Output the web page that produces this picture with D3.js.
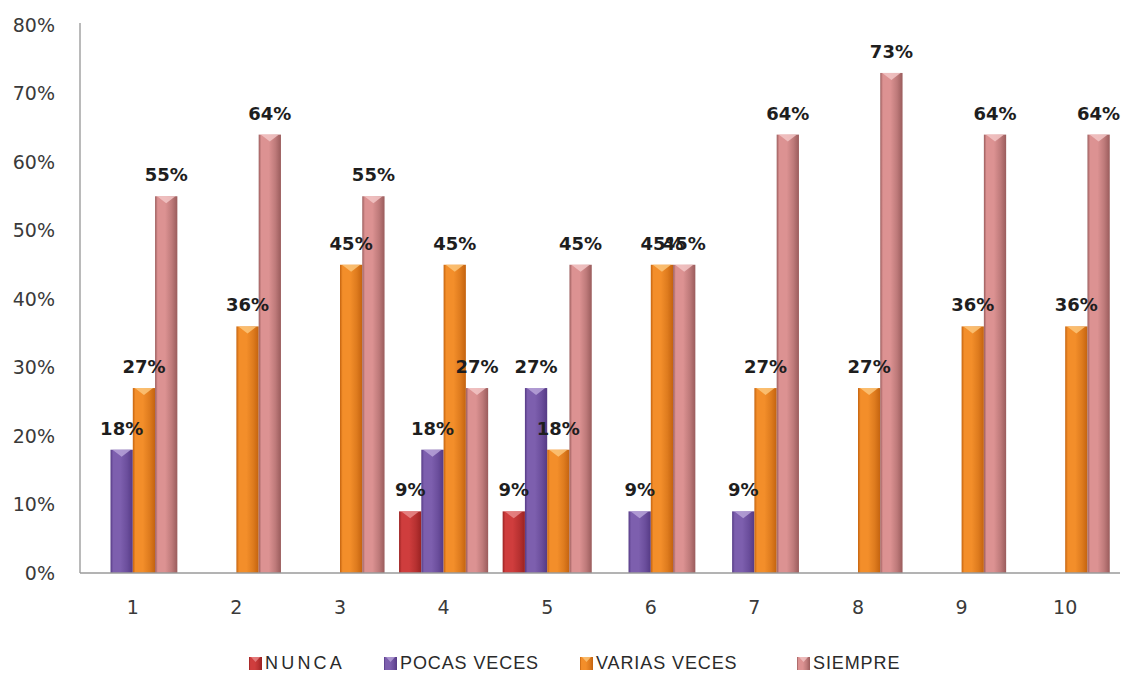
<!DOCTYPE html>
<html>
<head>
<meta charset="utf-8">
<script src="https://cdn.jsdelivr.net/npm/d3@7/dist/d3.min.js"></script>
<style>
  html, body { margin: 0; padding: 0; background: #ffffff; }
  svg { display: block; }
</style>
</head>
<body>
<svg id="chart" width="1123" height="673"></svg>
<script>
// Survey answers per question (percent of respondents)
const categories = ["1", "2", "3", "4", "5", "6", "7", "8", "9", "10"];
const seriesNames = ["NUNCA", "POCAS VECES", "VARIAS VECES", "SIEMPRE"];
const nunca       = [0, 0, 0, 9, 9, 0, 0, 0, 0, 0];
const pocasVeces  = [18, 0, 0, 18, 27, 9, 9, 0, 0, 0];
const variasVeces = [27, 36, 45, 45, 18, 45, 27, 27, 36, 36];
const siempre     = [55, 64, 55, 27, 45, 45, 64, 73, 64, 64];
const yTicks = [0, 10, 20, 30, 40, 50, 60, 70, 80];

const seriesValues = [nunca, pocasVeces, variasVeces, siempre];

// Column shading: darker edges, lighter centre, bevelled top
const palette = [
  { edge: "#9a2222", mid: "#cf3d3d", light: "#e88a8a" },
  { edge: "#553a85", mid: "#7d5fae", light: "#b7a3d8" },
  { edge: "#c4630f", mid: "#f38e2a", light: "#fbc57a" },
  { edge: "#9a5c5c", mid: "#dc9292", light: "#f2c6c6" }
];

const svg = d3.select("#chart");
const plot = { left: 80, right: 1120, top: 25, bottom: 573 };

const x0 = d3.scaleBand().domain(categories).range([81, 1117]).padding(0);
const groupW = x0.bandwidth() * 0.86;
const x1 = d3.scaleBand().domain(seriesNames)
  .range([(x0.bandwidth() - groupW) / 2, (x0.bandwidth() + groupW) / 2])
  .padding(0);
const y = d3.scaleLinear().domain([0, 80]).range([plot.bottom, plot.top]);

// Gradients
const defs = svg.append("defs");
palette.forEach((p, i) => {
  const g = defs.append("linearGradient")
    .attr("id", "grad" + i).attr("x1", "0").attr("x2", "1").attr("y1", "0").attr("y2", "0");
  g.append("stop").attr("offset", "0%").attr("stop-color", p.edge);
  g.append("stop").attr("offset", "12%").attr("stop-color", p.mid);
  g.append("stop").attr("offset", "45%").attr("stop-color", p.mid);
  g.append("stop").attr("offset", "75%").attr("stop-color", d3.interpolateRgb(p.mid, p.edge)(0.45));
  g.append("stop").attr("offset", "100%").attr("stop-color", p.edge);
});

// Y axis
const yAxis = d3.axisLeft(y)
  .tickValues(yTicks)
  .tickFormat(d => d + "%")
  .tickSizeInner(0).tickSizeOuter(0).tickPadding(25);
const gy = svg.append("g").attr("transform", `translate(${plot.left},0)`).call(yAxis);
gy.select(".domain").attr("stroke", "#8c8c8c").attr("stroke-width", 1.2)
  .attr("d", `M0,${plot.top - 2}V${plot.bottom}`);
gy.selectAll("text")
  .attr("font-family", "'DejaVu Sans', Verdana, sans-serif")
  .attr("font-size", 19).attr("fill", "#3a3a3a");

// X axis
const xAxis = d3.axisBottom(x0).tickSizeInner(0).tickSizeOuter(0).tickPadding(28);
const gx = svg.append("g").attr("transform", `translate(0,${plot.bottom})`).call(xAxis);
gx.select(".domain").remove();
gx.selectAll("text")
  .attr("font-family", "'DejaVu Sans', Verdana, sans-serif")
  .attr("font-size", 19).attr("fill", "#3a3a3a");

// Bars
const rows = [];
categories.forEach((c, ci) => {
  seriesNames.forEach((s, si) => {
    rows.push({ cat: c, series: s, si: si, value: seriesValues[si][ci] });
  });
});
const bars = rows.filter(d => d.value > 0);

const barG = svg.append("g");
const bar = barG.selectAll("g.bar").data(bars).join("g").attr("class", "bar");
bar.append("rect")
  .attr("x", d => x0(d.cat) + x1(d.series))
  .attr("y", d => y(d.value))
  .attr("width", x1.bandwidth())
  .attr("height", d => y(0) - y(d.value))
  .attr("fill", d => `url(#grad${d.si})`);
// bevel on top of each column
bar.append("path")
  .attr("d", d => {
    const bx = x0(d.cat) + x1(d.series), bw = x1.bandwidth(), by = y(d.value);
    return `M${bx + 2},${by}L${bx + bw - 2},${by}L${bx + bw / 2},${by + 7}Z`;
  })
  .attr("fill", d => palette[d.si].light)
  .attr("opacity", 0.85);

// Baseline
svg.append("line")
  .attr("x1", plot.left).attr("x2", plot.right)
  .attr("y1", y(0)).attr("y2", y(0))
  .attr("stroke", "#9a9a9a").attr("stroke-width", 1.5);

// Value labels
const fmt = d3.format(".0%");
svg.append("g").selectAll("text").data(bars).join("text")
  .attr("x", d => x0(d.cat) + x1(d.series) + x1.bandwidth() / 2)
  .attr("y", d => y(d.value) - 15)
  .attr("text-anchor", "middle")
  .attr("font-family", "'DejaVu Sans', Verdana, sans-serif")
  .attr("font-weight", "bold")
  .attr("font-size", 18)
  .attr("fill", "#1e1e1e")
  .text(d => fmt(d.value / 100));

// Legend
const legendX = [249, 384, 580, 797];
const legend = svg.append("g").attr("transform", "translate(0,663)");
const li = legend.selectAll("g").data(seriesNames).join("g")
  .attr("transform", (d, i) => `translate(${legendX[i]},0)`);
li.append("rect").attr("x", 0).attr("y", -6).attr("width", 13).attr("height", 13)
  .attr("fill", (d, i) => `url(#grad${i})`);
li.append("path").attr("d", "M2,-6L11,-6L6.5,-1Z").attr("fill", (d, i) => palette[i].light).attr("opacity", 0.8);
li.append("text").attr("x", 16).attr("y", 6)
  .attr("font-family", "'Liberation Sans', Arial, sans-serif")
  .attr("font-size", 18)
  .attr("letter-spacing", (d, i) => i === 0 ? 3.2 : 0.9)
  .attr("fill", "#2a2a2a")
  .text(d => d);
</script>
</body>
</html>
